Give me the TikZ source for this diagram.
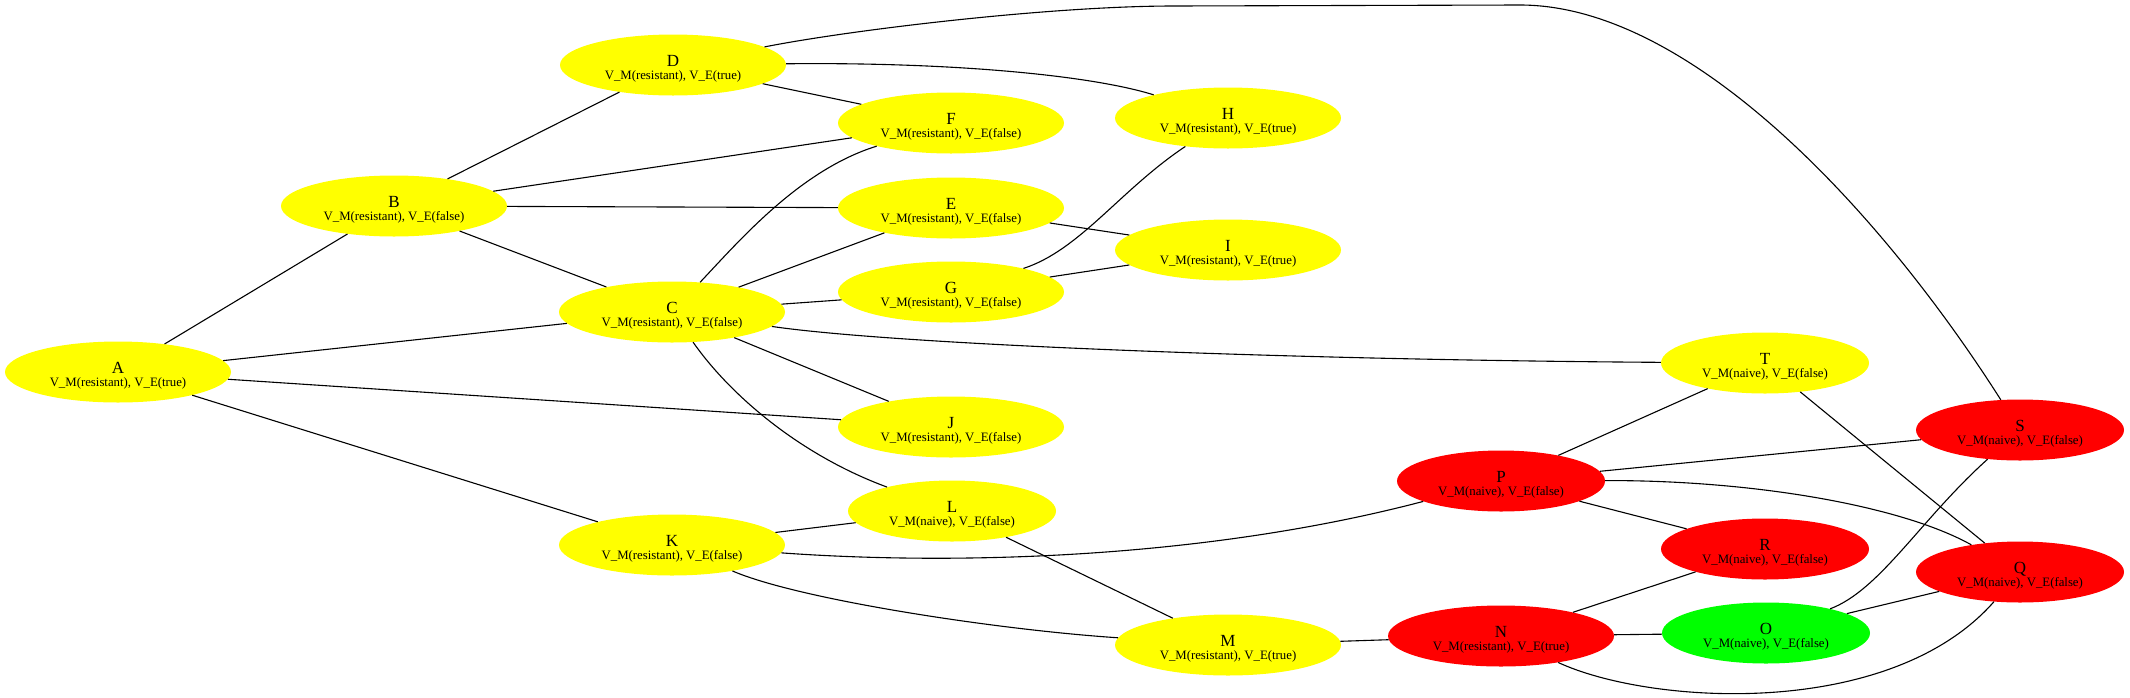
\documentclass[tikz,border=0pt]{standalone}
\usepackage{fontspec}
\setmainfont{Liberation Serif}
\usetikzlibrary{shapes.geometric}
\definecolor{gvyellow}{RGB}{255,255,0}
\definecolor{gvred}{RGB}{255,0,0}
\definecolor{gvgreen}{RGB}{0,255,0}
\tikzset{
  gnode/.style={ellipse, draw=none, inner sep=0pt, minimum height=61pt},
  res/.style={gnode, minimum width=226pt},
  nai/.style={gnode, minimum width=208pt},
  ttl/.style={anchor=base, inner sep=0pt, font=\fontsize{17}{17}\selectfont},
  sub/.style={anchor=base, inner sep=0pt, font=\fontsize{12.8}{13}\selectfont},
  edge/.style={draw=black, line width=1.1pt},
}
\newcommand{\gvnode}[7]{%
  \node[#4, fill=#5] (#1) at (#2,#3) {};
  \node[ttl] (#1-t) at (#2,#3+1) {#6};
  \node[sub] (#1-s) at (#2,#3+14.5) {#7};
}
\begin{document}
\begin{tikzpicture}[x=1pt,y=-1pt]
\useasboundingbox[fill=white] (0,0) rectangle (2130,697);
\gvnode{A}{118}{372}{res}{gvyellow}{A}{V\_M(resistant), V\_E(true)}
\gvnode{B}{394}{206}{res}{gvyellow}{B}{V\_M(resistant), V\_E(false)}
\gvnode{C}{672}{312}{res}{gvyellow}{C}{V\_M(resistant), V\_E(false)}
\gvnode{D}{673}{65}{res}{gvyellow}{D}{V\_M(resistant), V\_E(true)}
\gvnode{E}{951}{208}{res}{gvyellow}{E}{V\_M(resistant), V\_E(false)}
\gvnode{F}{951}{123}{res}{gvyellow}{F}{V\_M(resistant), V\_E(false)}
\gvnode{G}{951}{292}{res}{gvyellow}{G}{V\_M(resistant), V\_E(false)}
\gvnode{H}{1228}{118}{res}{gvyellow}{H}{V\_M(resistant), V\_E(true)}
\gvnode{I}{1228}{250}{res}{gvyellow}{I}{V\_M(resistant), V\_E(true)}
\gvnode{J}{951}{427}{res}{gvyellow}{J}{V\_M(resistant), V\_E(false)}
\gvnode{K}{672}{545}{res}{gvyellow}{K}{V\_M(resistant), V\_E(false)}
\gvnode{L}{952}{511}{nai}{gvyellow}{L}{V\_M(naive), V\_E(false)}
\gvnode{M}{1228}{645}{res}{gvyellow}{M}{V\_M(resistant), V\_E(true)}
\gvnode{N}{1501}{636}{res}{gvred}{N}{V\_M(resistant), V\_E(true)}
\gvnode{O}{1766}{633}{nai}{gvgreen}{O}{V\_M(naive), V\_E(false)}
\gvnode{P}{1501}{481}{nai}{gvred}{P}{V\_M(naive), V\_E(false)}
\gvnode{Q}{2020}{572}{nai}{gvred}{Q}{V\_M(naive), V\_E(false)}
\gvnode{R}{1765}{549}{nai}{gvred}{R}{V\_M(naive), V\_E(false)}
\gvnode{S}{2020}{430}{nai}{gvred}{S}{V\_M(naive), V\_E(false)}
\gvnode{T}{1765}{363}{nai}{gvyellow}{T}{V\_M(naive), V\_E(false)}
% straight edges
\draw[edge] (A) -- (B);
\draw[edge] (A) -- (C);
\draw[edge] (A) -- (J);
\draw[edge] (A) -- (K);
\draw[edge] (B) -- (D);
\draw[edge] (B) -- (F);
\draw[edge] (B) -- (E);
\draw[edge] (B) -- (C);
\draw[edge] (D) -- (F);
\draw[edge] (C) -- (E);
\draw[edge] (C) -- (G);
\draw[edge] (C) -- (J);
\draw[edge] (E) -- (I);
\draw[edge] (G) -- (I);
\draw[edge] (K) -- (L);
\draw[edge] (L) -- (M);
\draw[edge] (M) -- (N);
\draw[edge] (N) -- (O);
\draw[edge] (N) -- (R);
\draw[edge] (O) -- (Q);
\draw[edge] (P) -- (T);
\draw[edge] (P) -- (S);
\draw[edge] (P) -- (R);
\draw[edge] (T) -- (Q);
% curved edges
\draw[edge] (D) .. controls (950,62) and (1090,75) .. (H);
\draw[edge] (D) .. controls (850,30) and (1050,6) .. (1174,6) -- (1520,5)
  .. controls (1690,5) and (1880,210) .. (S);
\draw[edge] (C) .. controls (740,240) and (800,170) .. (F);
\draw[edge] (C) .. controls (900,345) and (1300,360) .. (T);
\draw[edge] (C) .. controls (730,395) and (800,455) .. (L);
\draw[edge] (G) .. controls (1080,250) and (1120,190) .. (H);
\draw[edge] (K) .. controls (950,565) and (1200,560) .. (P);
\draw[edge] (K) .. controls (800,600) and (1000,630) .. (M);
\draw[edge] (N) .. controls (1650,705) and (1890,720) .. (Q);
\draw[edge] (O) .. controls (1880,590) and (1920,520) .. (S);
\draw[edge] (P) .. controls (1750,480) and (1900,505) .. (Q);
\end{tikzpicture}
\end{document}
